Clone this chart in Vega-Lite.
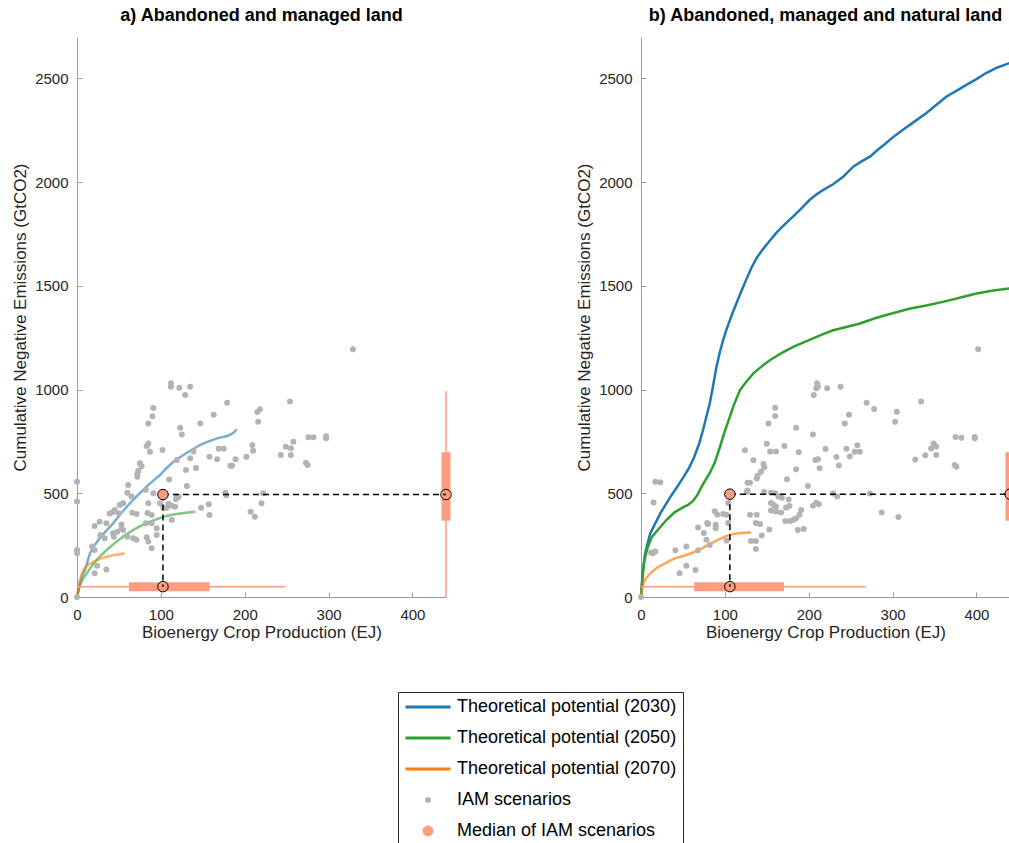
{
  "$schema": "https://vega.github.io/schema/vega-lite/v6.json",
  "padding": {"left": 11, "top": 7, "right": 0, "bottom": 0},
  "background": "white",
  "spacing": 121,
  "datasets": {
    "pts_a": [
      {"x":0,"y":0},{"x":0,"y":211},{"x":0,"y":227},{"x":0,"y":460},{"x":0,"y":556},
      {"x":21,"y":114},{"x":24,"y":151},{"x":35,"y":133},{"x":18,"y":243},{"x":21,"y":227},
      {"x":28,"y":299},{"x":33,"y":283},{"x":21,"y":342},{"x":27,"y":363},{"x":35,"y":355},{"x":43,"y":307},{"x":44,"y":291},
      {"x":53,"y":350},{"x":55,"y":323},{"x":60,"y":291},{"x":67,"y":283},{"x":45,"y":419},{"x":50,"y":403},{"x":55,"y":452},
      {"x":66,"y":406},{"x":71,"y":400},{"x":60,"y":503},{"x":65,"y":485},{"x":61,"y":540},{"x":72,"y":580},{"x":72,"y":593},{"x":73,"y":609},{"x":75,"y":645},{"x":77,"y":630},
      {"x":82,"y":516},{"x":82,"y":355},{"x":83,"y":288},{"x":85,"y":267},{"x":89,"y":235},{"x":84,"y":405},{"x":85,"y":452},{"x":89,"y":395},{"x":89,"y":355},{"x":95,"y":331},{"x":95,"y":299},
      {"x":91,"y":500},{"x":83,"y":728},{"x":85,"y":740},{"x":87,"y":700},{"x":85,"y":837},{"x":90,"y":871},{"x":91,"y":911},
      {"x":102,"y":709},{"x":103,"y":430},{"x":107,"y":430},{"x":109,"y":450},{"x":113,"y":440},{"x":110,"y":567},{"x":113,"y":371},{"x":117,"y":435},{"x":118,"y":471},{"x":119,"y":484},
      {"x":112,"y":1030},{"x":112,"y":1014},{"x":122,"y":1009},{"x":135,"y":1014},{"x":129,"y":974},
      {"x":123,"y":816},{"x":125,"y":783},{"x":119,"y":661},{"x":131,"y":535},{"x":130,"y":612},{"x":142,"y":622},{"x":135,"y":669},{"x":139,"y":701},{"x":147,"y":837},
      {"x":148,"y":430},{"x":157,"y":447},{"x":158,"y":395},{"x":158,"y":676},{"x":163,"y":879},{"x":167,"y":664},{"x":169,"y":715},{"x":175,"y":715},{"x":179,"y":937},
      {"x":177,"y":503},{"x":178,"y":491},{"x":183,"y":633},{"x":185,"y":633},{"x":189,"y":664},{"x":202,"y":676},{"x":209,"y":733},{"x":210,"y":705},{"x":207,"y":411},{"x":212,"y":387},
      {"x":215,"y":892},{"x":218,"y":905},{"x":216,"y":845},{"x":222,"y":500},{"x":220,"y":452},
      {"x":243,"y":685},{"x":249,"y":725},{"x":254,"y":942},{"x":255,"y":717},{"x":255,"y":685},{"x":258,"y":749},{"x":273,"y":647},{"x":275,"y":636},
      {"x":276,"y":770},{"x":282,"y":770},{"x":297,"y":775},{"x":297,"y":765},{"x":329,"y":1194},
      {"x":39,"y":403},{"x":43,"y":410},{"x":48,"y":315},{"x":53,"y":331},{"x":71,"y":276},{"x":99,"y":452},{"x":121,"y":482},{"x":51,"y":444}
    ],
    "pts_b": [
      {"x":0,"y":0},{"x":15,"y":456},{"x":17,"y":556},{"x":23,"y":553},{"x":14,"y":211},{"x":17,"y":219},{"x":12,"y":215},
      {"x":41,"y":226},{"x":46,"y":114},{"x":54,"y":151},{"x":54,"y":243},{"x":65,"y":130},{"x":68,"y":226},{"x":68,"y":335},{"x":75,"y":308},{"x":78,"y":276},{"x":79,"y":357},{"x":80,"y":352},{"x":82,"y":251},
      {"x":88,"y":413},{"x":91,"y":397},{"x":98,"y":400},{"x":89,"y":348},{"x":89,"y":332},{"x":102,"y":397},{"x":104,"y":453},{"x":104,"y":357},{"x":102,"y":273},
      {"x":124,"y":707},{"x":127,"y":551},{"x":130,"y":551},{"x":127,"y":514},{"x":126,"y":506},{"x":130,"y":397},{"x":138,"y":397},{"x":137,"y":357},{"x":142,"y":352},{"x":131,"y":270},{"x":137,"y":270},{"x":137,"y":232},{"x":144,"y":297},{"x":153,"y":325},
      {"x":134,"y":659},{"x":138,"y":571},{"x":139,"y":584},{"x":143,"y":604},{"x":146,"y":641},{"x":147,"y":625},{"x":150,"y":739},{"x":154,"y":701},{"x":161,"y":701},{"x":152,"y":837},{"x":160,"y":913},{"x":160,"y":873},
      {"x":147,"y":506},{"x":155,"y":503},{"x":160,"y":500},{"x":164,"y":485},{"x":168,"y":478},{"x":176,"y":470},{"x":155,"y":453},{"x":158,"y":445},{"x":161,"y":436},{"x":155,"y":417},{"x":161,"y":412},{"x":167,"y":407},{"x":173,"y":431},{"x":177,"y":439},
      {"x":172,"y":367},{"x":178,"y":367},{"x":182,"y":372},{"x":185,"y":380},{"x":189,"y":397},{"x":191,"y":419},{"x":187,"y":323},{"x":194,"y":328},
      {"x":171,"y":728},{"x":174,"y":568},{"x":185,"y":616},{"x":185,"y":816},{"x":188,"y":698},{"x":199,"y":535},{"x":205,"y":440},{"x":209,"y":454},{"x":212,"y":447},
      {"x":205,"y":783},{"x":206,"y":974},{"x":208,"y":661},{"x":211,"y":664},{"x":213,"y":621},{"x":209,"y":1006},{"x":210,"y":1030},{"x":211,"y":1014},{"x":220,"y":714},{"x":222,"y":1006},
      {"x":229,"y":499},{"x":234,"y":485},{"x":233,"y":675},{"x":236,"y":634},{"x":238,"y":1014},{"x":243,"y":837},{"x":245,"y":715},{"x":248,"y":879},{"x":249,"y":677},{"x":255,"y":700},{"x":258,"y":732},{"x":261,"y":700},
      {"x":269,"y":937},{"x":273,"y":499},{"x":278,"y":906},{"x":287,"y":407},{"x":303,"y":845},{"x":305,"y":893},{"x":307,"y":386},{"x":327,"y":663},{"x":334,"y":942},{"x":339,"y":684},
      {"x":346,"y":716},{"x":349,"y":740},{"x":352,"y":726},{"x":352,"y":685},{"x":374,"y":636},{"x":376,"y":628},{"x":375,"y":772},{"x":382,"y":768},{"x":398,"y":772},{"x":398,"y":765},{"x":402,"y":1194}
    ],
    "lines_a": [
      {"s":"Theoretical potential (2030)","x":0,"y":0},{"s":"Theoretical potential (2030)","x":3,"y":60},{"s":"Theoretical potential (2030)","x":6,"y":100},{"s":"Theoretical potential (2030)","x":9.5,"y":130},{"s":"Theoretical potential (2030)","x":15.5,"y":211},{"s":"Theoretical potential (2030)","x":21,"y":250},{"s":"Theoretical potential (2030)","x":27,"y":283},{"s":"Theoretical potential (2030)","x":35,"y":320},{"s":"Theoretical potential (2030)","x":43,"y":355},{"s":"Theoretical potential (2030)","x":53,"y":405},{"s":"Theoretical potential (2030)","x":63,"y":452},{"s":"Theoretical potential (2030)","x":73,"y":493},{"s":"Theoretical potential (2030)","x":83,"y":532},{"s":"Theoretical potential (2030)","x":91,"y":561},{"s":"Theoretical potential (2030)","x":99,"y":588},{"s":"Theoretical potential (2030)","x":107,"y":622},{"s":"Theoretical potential (2030)","x":115,"y":652},{"s":"Theoretical potential (2030)","x":125,"y":680},{"s":"Theoretical potential (2030)","x":135,"y":705},{"s":"Theoretical potential (2030)","x":147,"y":733},{"s":"Theoretical potential (2030)","x":157,"y":750},{"s":"Theoretical potential (2030)","x":167,"y":765},{"s":"Theoretical potential (2030)","x":179,"y":776},{"s":"Theoretical potential (2030)","x":186,"y":790},{"s":"Theoretical potential (2030)","x":190.5,"y":808},
      {"s":"Theoretical potential (2050)","x":0,"y":0},{"s":"Theoretical potential (2050)","x":3,"y":50},{"s":"Theoretical potential (2050)","x":6,"y":80},{"s":"Theoretical potential (2050)","x":11.6,"y":114},{"s":"Theoretical potential (2050)","x":19,"y":158},{"s":"Theoretical potential (2050)","x":27,"y":194},{"s":"Theoretical potential (2050)","x":37,"y":233},{"s":"Theoretical potential (2050)","x":47,"y":267},{"s":"Theoretical potential (2050)","x":57,"y":297},{"s":"Theoretical potential (2050)","x":67,"y":323},{"s":"Theoretical potential (2050)","x":77,"y":345},{"s":"Theoretical potential (2050)","x":87,"y":363},{"s":"Theoretical potential (2050)","x":97,"y":378},{"s":"Theoretical potential (2050)","x":107,"y":391},{"s":"Theoretical potential (2050)","x":115,"y":398},{"s":"Theoretical potential (2050)","x":123,"y":403},{"s":"Theoretical potential (2050)","x":132,"y":407},{"s":"Theoretical potential (2050)","x":141,"y":411},
      {"s":"Theoretical potential (2070)","x":0,"y":0},{"s":"Theoretical potential (2070)","x":2,"y":50},{"s":"Theoretical potential (2070)","x":4,"y":90},{"s":"Theoretical potential (2070)","x":7.5,"y":130},{"s":"Theoretical potential (2070)","x":12,"y":152},{"s":"Theoretical potential (2070)","x":19.5,"y":170},{"s":"Theoretical potential (2070)","x":27,"y":184},{"s":"Theoretical potential (2070)","x":35,"y":194},{"s":"Theoretical potential (2070)","x":45,"y":203},{"s":"Theoretical potential (2070)","x":57,"y":211}
    ],
    "lines_b": [
      {"s":"Theoretical potential (2030)","x":0,"y":0},{"s":"Theoretical potential (2030)","x":2,"y":120},{"s":"Theoretical potential (2030)","x":5,"y":211},{"s":"Theoretical potential (2030)","x":8,"y":260},{"s":"Theoretical potential (2030)","x":11,"y":307},{"s":"Theoretical potential (2030)","x":17,"y":355},{"s":"Theoretical potential (2030)","x":23,"y":403},{"s":"Theoretical potential (2030)","x":29,"y":443},{"s":"Theoretical potential (2030)","x":35,"y":483},{"s":"Theoretical potential (2030)","x":43,"y":530},{"s":"Theoretical potential (2030)","x":51,"y":580},{"s":"Theoretical potential (2030)","x":57,"y":620},{"s":"Theoretical potential (2030)","x":63,"y":670},{"s":"Theoretical potential (2030)","x":69,"y":735},{"s":"Theoretical potential (2030)","x":74,"y":805},{"s":"Theoretical potential (2030)","x":78,"y":870},{"s":"Theoretical potential (2030)","x":82,"y":933},{"s":"Theoretical potential (2030)","x":86,"y":1020},{"s":"Theoretical potential (2030)","x":90,"y":1110},{"s":"Theoretical potential (2030)","x":94,"y":1180},{"s":"Theoretical potential (2030)","x":98,"y":1240},{"s":"Theoretical potential (2030)","x":102,"y":1290},{"s":"Theoretical potential (2030)","x":106,"y":1335},{"s":"Theoretical potential (2030)","x":110,"y":1378},{"s":"Theoretical potential (2030)","x":115,"y":1428},{"s":"Theoretical potential (2030)","x":120,"y":1478},{"s":"Theoretical potential (2030)","x":126,"y":1535},{"s":"Theoretical potential (2030)","x":132,"y":1590},{"s":"Theoretical potential (2030)","x":138,"y":1635},{"s":"Theoretical potential (2030)","x":145,"y":1675},{"s":"Theoretical potential (2030)","x":153,"y":1715},{"s":"Theoretical potential (2030)","x":161,"y":1754},{"s":"Theoretical potential (2030)","x":171,"y":1795},{"s":"Theoretical potential (2030)","x":181,"y":1833},{"s":"Theoretical potential (2030)","x":191,"y":1873},{"s":"Theoretical potential (2030)","x":201,"y":1914},{"s":"Theoretical potential (2030)","x":209,"y":1940},{"s":"Theoretical potential (2030)","x":217,"y":1962},{"s":"Theoretical potential (2030)","x":229,"y":1990},{"s":"Theoretical potential (2030)","x":241,"y":2026},{"s":"Theoretical potential (2030)","x":253,"y":2075},{"s":"Theoretical potential (2030)","x":263,"y":2100},{"s":"Theoretical potential (2030)","x":273,"y":2123},{"s":"Theoretical potential (2030)","x":282,"y":2155},{"s":"Theoretical potential (2030)","x":292,"y":2188},{"s":"Theoretical potential (2030)","x":302,"y":2222},{"s":"Theoretical potential (2030)","x":312,"y":2252},{"s":"Theoretical potential (2030)","x":326,"y":2292},{"s":"Theoretical potential (2030)","x":340,"y":2332},{"s":"Theoretical potential (2030)","x":352,"y":2372},{"s":"Theoretical potential (2030)","x":364,"y":2412},{"s":"Theoretical potential (2030)","x":376,"y":2440},{"s":"Theoretical potential (2030)","x":388,"y":2469},{"s":"Theoretical potential (2030)","x":400,"y":2497},{"s":"Theoretical potential (2030)","x":411,"y":2525},{"s":"Theoretical potential (2030)","x":425,"y":2553},{"s":"Theoretical potential (2030)","x":440,"y":2575},
      {"s":"Theoretical potential (2050)","x":0,"y":0},{"s":"Theoretical potential (2050)","x":2,"y":100},{"s":"Theoretical potential (2050)","x":4,"y":178},{"s":"Theoretical potential (2050)","x":8,"y":240},{"s":"Theoretical potential (2050)","x":13,"y":290},{"s":"Theoretical potential (2050)","x":20,"y":323},{"s":"Theoretical potential (2050)","x":30,"y":370},{"s":"Theoretical potential (2050)","x":40,"y":408},{"s":"Theoretical potential (2050)","x":50,"y":432},{"s":"Theoretical potential (2050)","x":56,"y":444},{"s":"Theoretical potential (2050)","x":62,"y":463},{"s":"Theoretical potential (2050)","x":67,"y":490},{"s":"Theoretical potential (2050)","x":72,"y":530},{"s":"Theoretical potential (2050)","x":77,"y":565},{"s":"Theoretical potential (2050)","x":82,"y":598},{"s":"Theoretical potential (2050)","x":88,"y":648},{"s":"Theoretical potential (2050)","x":94,"y":722},{"s":"Theoretical potential (2050)","x":100,"y":800},{"s":"Theoretical potential (2050)","x":106,"y":870},{"s":"Theoretical potential (2050)","x":110,"y":918},{"s":"Theoretical potential (2050)","x":118,"y":998},{"s":"Theoretical potential (2050)","x":126,"y":1040},{"s":"Theoretical potential (2050)","x":134,"y":1078},{"s":"Theoretical potential (2050)","x":144,"y":1112},{"s":"Theoretical potential (2050)","x":154,"y":1143},{"s":"Theoretical potential (2050)","x":168,"y":1177},{"s":"Theoretical potential (2050)","x":182,"y":1207},{"s":"Theoretical potential (2050)","x":201,"y":1240},{"s":"Theoretical potential (2050)","x":215,"y":1264},{"s":"Theoretical potential (2050)","x":229,"y":1286},{"s":"Theoretical potential (2050)","x":245,"y":1302},{"s":"Theoretical potential (2050)","x":261,"y":1319},{"s":"Theoretical potential (2050)","x":280,"y":1345},{"s":"Theoretical potential (2050)","x":300,"y":1368},{"s":"Theoretical potential (2050)","x":320,"y":1390},{"s":"Theoretical potential (2050)","x":340,"y":1405},{"s":"Theoretical potential (2050)","x":360,"y":1423},{"s":"Theoretical potential (2050)","x":380,"y":1443},{"s":"Theoretical potential (2050)","x":400,"y":1463},{"s":"Theoretical potential (2050)","x":420,"y":1478},{"s":"Theoretical potential (2050)","x":440,"y":1488},
      {"s":"Theoretical potential (2070)","x":0,"y":0},{"s":"Theoretical potential (2070)","x":1,"y":35},{"s":"Theoretical potential (2070)","x":3,"y":66},{"s":"Theoretical potential (2070)","x":6,"y":90},{"s":"Theoretical potential (2070)","x":9,"y":105},{"s":"Theoretical potential (2070)","x":14,"y":125},{"s":"Theoretical potential (2070)","x":21,"y":146},{"s":"Theoretical potential (2070)","x":30,"y":165},{"s":"Theoretical potential (2070)","x":40,"y":186},{"s":"Theoretical potential (2070)","x":50,"y":198},{"s":"Theoretical potential (2070)","x":60,"y":211},{"s":"Theoretical potential (2070)","x":70,"y":228},{"s":"Theoretical potential (2070)","x":80,"y":251},{"s":"Theoretical potential (2070)","x":90,"y":272},{"s":"Theoretical potential (2070)","x":100,"y":291},{"s":"Theoretical potential (2070)","x":108,"y":302},{"s":"Theoretical potential (2070)","x":116,"y":307},{"s":"Theoretical potential (2070)","x":124,"y":310},{"s":"Theoretical potential (2070)","x":131,"y":311}
    ],
    "whisk_a": [{"x":0,"x2":248,"y":50,"y2":50},{"x":440,"x2":440,"y":0,"y2":993}],
    "box_a": [{"x":62,"x2":158,"y":50,"y2":50},{"x":440,"x2":440,"y":368,"y2":698}],
    "dash_a": [{"x":102.5,"x2":440,"y":494,"y2":494},{"x":102.5,"x2":102.5,"y":494,"y2":50}],
    "open_a": [{"x":102.5,"y":50},{"x":440,"y":494}],
    "med_a": [{"s":"Median of IAM scenarios","x":102.5,"y":494}],
    "whisk_b": [{"x":0,"x2":268,"y":50,"y2":50},{"x":440,"x2":440,"y":0,"y2":993}],
    "box_b": [{"x":63.5,"x2":170.5,"y":50,"y2":50},{"x":440,"x2":440,"y":368,"y2":698}],
    "dash_b": [{"x":106,"x2":440,"y":496,"y2":496},{"x":106,"x2":106,"y":496,"y2":50}],
    "open_b": [{"x":106,"y":50},{"x":440,"y":496}],
    "med_b": [{"s":"Median of IAM scenarios","x":106,"y":496}]
  },
  "hconcat": [
    {
      "width": 369, "height": 560,
      "title": {"text": "a) Abandoned and managed land", "offset": 12},
      "layer": [
        {"data": {"name": "lines_a"}, "mark": {"type": "line", "strokeWidth": 2.5, "opacity": 0.6},
         "encoding": {
           "x": {"field": "x", "type": "quantitative", "scale": {"domain": [0, 440], "nice": false, "zero": false}, "axis": {"values": [0,100,200,300,400], "format": "d", "title": "Bioenergy Crop Production (EJ)", "labelPadding": 15, "titlePadding": 2, "labelFlush": false}},
           "y": {"field": "y", "type": "quantitative", "scale": {"domain": [0, 2700], "nice": false}, "axis": {"values": [0,500,1000,1500,2000,2500], "format": "d", "title": "Cumulative Negative Emissions (GtCO2)", "labelPadding": 14, "titlePadding": 5}},
           "color": {"field": "s", "type": "nominal", "title": null,
             "scale": {"domain": ["Theoretical potential (2030)","Theoretical potential (2050)","Theoretical potential (2070)","IAM scenarios","Median of IAM scenarios"], "range": ["#1f77b4","#2ca02c","#ff7f0e","#b3b3b3","#fc9d7f"]},
             "legend": {
               "symbolType": {"expr": "((datum.value == 'IAM scenarios' || datum.value == 'Median of IAM scenarios') ? 'circle' : 'stroke')"},
               "symbolSize": {"expr": "(datum.value == 'IAM scenarios' ? 36 : (datum.value == 'Median of IAM scenarios' ? 100 : 2025))"},
               "symbolFillColor": {"expr": "(datum.value == 'IAM scenarios' ? '#b3b3b3' : (datum.value == 'Median of IAM scenarios' ? '#fc9d7f' : 'transparent'))"},
               "symbolStrokeColor": {"expr": "(datum.value == 'Median of IAM scenarios' ? '#000000' : (datum.value == 'IAM scenarios' ? '#b3b3b3' : (datum.value == 'Theoretical potential (2030)' ? '#1f77b4' : (datum.value == 'Theoretical potential (2050)' ? '#2ca02c' : '#ff7f0e'))))"},
               "symbolStrokeWidth": {"expr": "(datum.value == 'Median of IAM scenarios' ? 1 : (datum.value == 'IAM scenarios' ? 0 : 3))"},
               "symbolOpacity": 1
             }},
           "detail": {"field": "s"}
         }},
        {"data": {"name": "pts_a"}, "mark": {"type": "point", "filled": true, "size": 36, "opacity": 1},
         "encoding": {"x": {"field": "x", "type": "quantitative"}, "y": {"field": "y", "type": "quantitative"}, "color": {"datum": "IAM scenarios", "type": "nominal"}}},
        {"data": {"name": "whisk_a"}, "mark": {"type": "rule", "color": "#fc9d7f", "strokeWidth": 1.5},
         "encoding": {"x": {"field": "x", "type": "quantitative"}, "x2": {"field": "x2"}, "y": {"field": "y", "type": "quantitative"}, "y2": {"field": "y2"}}},
        {"data": {"name": "box_a"}, "mark": {"type": "rule", "color": "#fc9d7f", "strokeWidth": 9},
         "encoding": {"x": {"field": "x", "type": "quantitative"}, "x2": {"field": "x2"}, "y": {"field": "y", "type": "quantitative"}, "y2": {"field": "y2"}}},
        {"data": {"name": "dash_a"}, "mark": {"type": "rule", "color": "#000000", "strokeWidth": 1.5, "strokeDash": [6, 4]},
         "encoding": {"x": {"field": "x", "type": "quantitative"}, "x2": {"field": "x2"}, "y": {"field": "y", "type": "quantitative"}, "y2": {"field": "y2"}}},
        {"data": {"name": "open_a"}, "mark": {"type": "point", "filled": false, "color": "#000000", "size": 110, "strokeWidth": 1, "opacity": 1},
         "encoding": {"x": {"field": "x", "type": "quantitative"}, "y": {"field": "y", "type": "quantitative"}}},
        {"data": {"name": "med_a"}, "mark": {"type": "point", "filled": true, "size": 110, "stroke": "#000000", "strokeWidth": 1, "opacity": 1},
         "encoding": {"x": {"field": "x", "type": "quantitative"}, "y": {"field": "y", "type": "quantitative"}, "color": {"field": "s", "type": "nominal"}}}
      ]
    },
    {
      "width": 369, "height": 560,
      "title": {"text": "b) Abandoned, managed and natural land", "offset": 12},
      "layer": [
        {"data": {"name": "lines_b"}, "transform": [{"filter": "datum.s != 'Theoretical potential (2070)'"}],
         "mark": {"type": "line", "strokeWidth": 2.5},
         "encoding": {
           "x": {"field": "x", "type": "quantitative", "scale": {"domain": [0, 440], "nice": false, "zero": false}, "axis": {"values": [0,100,200,300,400], "format": "d", "title": "Bioenergy Crop Production (EJ)", "labelPadding": 15, "titlePadding": 2, "labelFlush": false}},
           "y": {"field": "y", "type": "quantitative", "scale": {"domain": [0, 2700], "nice": false}, "axis": {"values": [0,500,1000,1500,2000,2500], "format": "d", "title": "Cumulative Negative Emissions (GtCO2)", "labelPadding": 14, "titlePadding": 5}},
           "color": {"field": "s", "type": "nominal"},
           "detail": {"field": "s"}
         }},
        {"data": {"name": "lines_b"}, "transform": [{"filter": "datum.s == 'Theoretical potential (2070)'"}],
         "mark": {"type": "line", "strokeWidth": 2.5, "opacity": 0.7},
         "encoding": {"x": {"field": "x", "type": "quantitative"}, "y": {"field": "y", "type": "quantitative"}, "color": {"field": "s", "type": "nominal"}}},
        {"data": {"name": "pts_b"}, "mark": {"type": "point", "filled": true, "size": 36, "opacity": 1},
         "encoding": {"x": {"field": "x", "type": "quantitative"}, "y": {"field": "y", "type": "quantitative"}, "color": {"datum": "IAM scenarios", "type": "nominal"}}},
        {"data": {"name": "whisk_b"}, "mark": {"type": "rule", "color": "#fc9d7f", "strokeWidth": 1.5},
         "encoding": {"x": {"field": "x", "type": "quantitative"}, "x2": {"field": "x2"}, "y": {"field": "y", "type": "quantitative"}, "y2": {"field": "y2"}}},
        {"data": {"name": "box_b"}, "mark": {"type": "rule", "color": "#fc9d7f", "strokeWidth": 9},
         "encoding": {"x": {"field": "x", "type": "quantitative"}, "x2": {"field": "x2"}, "y": {"field": "y", "type": "quantitative"}, "y2": {"field": "y2"}}},
        {"data": {"name": "dash_b"}, "mark": {"type": "rule", "color": "#000000", "strokeWidth": 1.5, "strokeDash": [6, 4]},
         "encoding": {"x": {"field": "x", "type": "quantitative"}, "x2": {"field": "x2"}, "y": {"field": "y", "type": "quantitative"}, "y2": {"field": "y2"}}},
        {"data": {"name": "open_b"}, "mark": {"type": "point", "filled": false, "color": "#000000", "size": 110, "strokeWidth": 1, "opacity": 1},
         "encoding": {"x": {"field": "x", "type": "quantitative"}, "y": {"field": "y", "type": "quantitative"}}},
        {"data": {"name": "med_b"}, "mark": {"type": "point", "filled": true, "size": 110, "stroke": "#000000", "strokeWidth": 1, "opacity": 1},
         "encoding": {"x": {"field": "x", "type": "quantitative"}, "y": {"field": "y", "type": "quantitative"}, "color": {"field": "s", "type": "nominal"}}}
      ]
    }
  ],
  "config": {
    "view": {"stroke": null},
    "font": "Liberation Sans",
    "axis": {"grid": false, "domainColor": "#9a9a9a", "tickColor": "#9a9a9a", "tickSize": -5, "domainWidth": 1, "tickWidth": 1,
      "labelColor": "#262626", "labelFont": "Liberation Sans", "labelFontSize": 15,
      "titleColor": "#262626", "titleFont": "Liberation Sans", "titleFontSize": 17, "titleFontWeight": "normal"},
    "title": {"font": "Liberation Sans", "fontSize": 18, "fontWeight": "bold", "color": "#000000", "anchor": "middle"},
    "legend": {"orient": "none", "legendX": 321, "legendY": 655, "direction": "vertical",
      "strokeColor": "#262626", "fillColor": "#ffffff", "padding": 6, "cornerRadius": 0,
      "labelFont": "Liberation Sans", "labelFontSize": 18, "labelColor": "#000000", "labelLimit": 400,
      "clipHeight": 18, "rowPadding": 13, "labelOffset": 5, "symbolOffset": 0}
  }
}
